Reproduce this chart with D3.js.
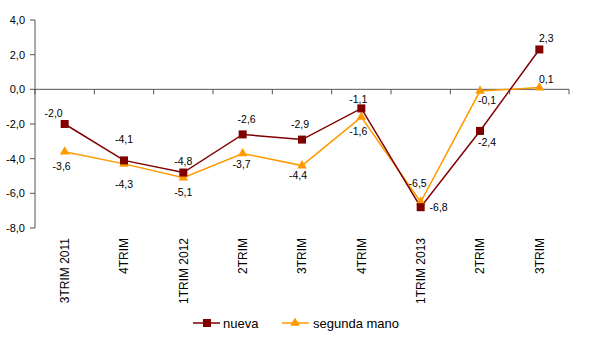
<!DOCTYPE html>
<html><head><meta charset="utf-8">
<script src="https://cdn.jsdelivr.net/npm/d3@7"></script>
<style>body{margin:0;background:#fff}svg{display:block;font-family:"Liberation Sans",Arial,sans-serif}</style>
</head><body><svg id="c" width="601" height="351"></svg>
<script>
const categories = ["3TRIM 2011","4TRIM","1TRIM 2012","2TRIM","3TRIM","4TRIM","1TRIM 2013","2TRIM","3TRIM"];
const nueva = [-2.0,-4.1,-4.8,-2.6,-2.9,-1.1,-6.8,-2.4,2.3];
const segunda = [-3.6,-4.3,-5.1,-3.7,-4.4,-1.6,-6.5,-0.1,0.1];
const yTicks = [4,2,0,-2,-4,-6,-8];
const seriesNames = ["nueva","segunda mano"];
// label offsets (style only)
const nuevaOff = [[-11,-11],[0,-21],[0,-11],[4,-15],[-2,-15],[-3,-9],[18,0],[7,11],[7,-11]];
const segOff = [[-3,15],[0,20],[0,15],[-1,11],[-4,10],[-3,14],[-3,-19],[7,9],[7,-8]];

const svg = d3.select("#c");
const fmt = v => d3.format(".1f")(v).replace(".", ",").replace("−","-");
const x = d3.scaleBand().domain(d3.range(categories.length)).range([35, 569]).padding(0);
const y = d3.scaleLinear().domain([-8, 4]).range([228, 20]);
const cx = i => x(i) + x.bandwidth()/2;
const axisCol = "#555";

// y axis
svg.append("line").attr("x1",35).attr("x2",35).attr("y1",y(4)).attr("y2",y(-8)).attr("stroke",axisCol);
yTicks.forEach(t=>{
  svg.append("line").attr("x1",30).attr("x2",35).attr("y1",y(t)).attr("y2",y(t)).attr("stroke",axisCol);
  svg.append("text").attr("x",25).attr("y",y(t)).attr("dy","0.35em").attr("text-anchor","end")
    .attr("font-size",11).attr("fill","#000").text(fmt(t));
});
// x axis at 0
svg.append("line").attr("x1",35).attr("x2",569).attr("y1",y(0)).attr("y2",y(0)).attr("stroke",axisCol);
d3.range(categories.length+1).forEach(i=>{
  const xx = i < categories.length ? x(i) : x.range()[1];
  svg.append("line").attr("x1",xx).attr("x2",xx).attr("y1",y(0)).attr("y2",y(0)+5).attr("stroke",axisCol);
});
categories.forEach((c,i)=>{
  svg.append("text").attr("transform",`translate(${cx(i)},238) rotate(-90)`)
    .attr("text-anchor","end").attr("dy","0.35em").attr("font-size",12).text(c);
});

const colN = "#800000", colS = "#FF9900";
const line = d3.line().x((d,i)=>cx(i)).y(d=>y(d));
svg.append("path").datum(segunda).attr("d",line).attr("fill","none").attr("stroke",colS).attr("stroke-width",1.5);
svg.append("path").datum(nueva).attr("d",line).attr("fill","none").attr("stroke",colN).attr("stroke-width",1.5);
const tri = d3.symbol().type(d3.symbolTriangle).size(40);
segunda.forEach((v,i)=>{
  svg.append("path").attr("d",tri()).attr("transform",`translate(${cx(i)},${y(v)})`).attr("fill",colS);
});
nueva.forEach((v,i)=>{
  svg.append("rect").attr("x",cx(i)-4).attr("y",y(v)-4).attr("width",8).attr("height",8).attr("fill",colN);
});
const addLabels = (arr, off) => arr.forEach((v,i)=>{
  svg.append("text").attr("x",cx(i)+off[i][0]).attr("y",y(v)+off[i][1]).attr("dy","0.35em")
    .attr("text-anchor","middle").attr("font-size",10.5).text(fmt(v));
});
addLabels(nueva, nuevaOff);
addLabels(segunda, segOff);

// legend
const ly = 323;
svg.append("line").attr("x1",193).attr("x2",220).attr("y1",ly).attr("y2",ly).attr("stroke",colN).attr("stroke-width",2).attr("opacity",0.75);
svg.append("rect").attr("x",203).attr("y",ly-4).attr("width",8).attr("height",8).attr("fill",colN);
svg.append("text").attr("x",223).attr("y",ly).attr("dy","0.35em").attr("font-size",13).text(seriesNames[0]);
svg.append("line").attr("x1",282).attr("x2",309).attr("y1",ly).attr("y2",ly).attr("stroke",colS).attr("stroke-width",2).attr("opacity",0.75);
svg.append("path").attr("d",tri()).attr("transform",`translate(295,${ly})`).attr("fill",colS);
svg.append("text").attr("x",313).attr("y",ly).attr("dy","0.35em").attr("font-size",13).text(seriesNames[1]);
</script></body></html>
